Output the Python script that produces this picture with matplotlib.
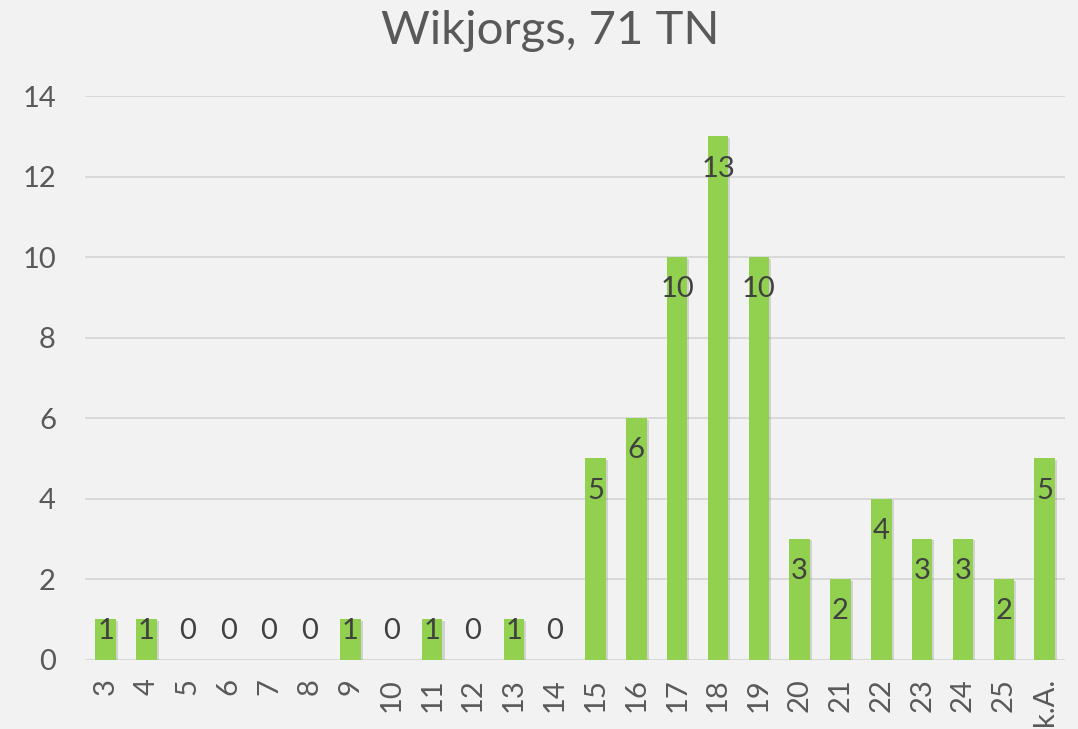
import matplotlib
matplotlib.use("Agg")
import matplotlib.pyplot as plt
import matplotlib.patheffects as pe

# data
categories = [str(i) for i in range(3, 26)] + ["k.A."]
counts = [1, 1, 0, 0, 0, 0, 1, 0, 1, 0, 1, 0,
          5, 6, 10, 13, 10, 3, 2, 4, 3, 3, 2, 5]
title = "Wikjorgs, 71 TN"
yticks = [0, 2, 4, 6, 8, 10, 12, 14]

BG = "#F2F2F2"
BAR = "#92D050"
GRID = "#D9D9D9"
TICK = "#595959"
LABEL = "#404040"

plt.rcParams['font.family'] = ['Lato', 'DejaVu Sans']

fig = plt.figure(figsize=(10.78, 7.29), dpi=100, facecolor=BG)
ax = fig.add_axes([0.079, 0.095, 0.909, 0.773], facecolor=BG)

x = list(range(len(categories)))
bars = ax.bar(x, counts, width=0.5, color=BAR, zorder=3)
for b in bars:
    b.set_path_effects([pe.SimplePatchShadow(offset=(1.5, -1), shadow_rgbFace="#8a8a8a", alpha=0.3),
                        pe.Normal()])

ax.set_xlim(-0.5, len(categories) - 0.5)
ax.set_ylim(0, 14)
ax.set_yticks(yticks)
ax.set_xticks(x)
ax.set_xticklabels(categories, rotation=90)
ax.tick_params(axis='both', length=0, colors=TICK, labelsize=21)
ax.tick_params(axis='y', pad=21)
ax.tick_params(axis='x', pad=13)
for s in ax.spines.values():
    s.set_visible(False)
ax.grid(axis='y', color=GRID, linewidth=1.4, zorder=0)

# labels at the inside end of each bar
for xi, v in zip(x, counts):
    ax.text(xi, max(v - 0.8, 0.72), str(v), ha='center', va='center',
            fontsize=21, color=LABEL, zorder=4)

fig.text(0.51, 0.958, title, ha='center', va='center', fontsize=34, color=TICK)

fig.savefig("out.png", dpi=100, facecolor=BG)
